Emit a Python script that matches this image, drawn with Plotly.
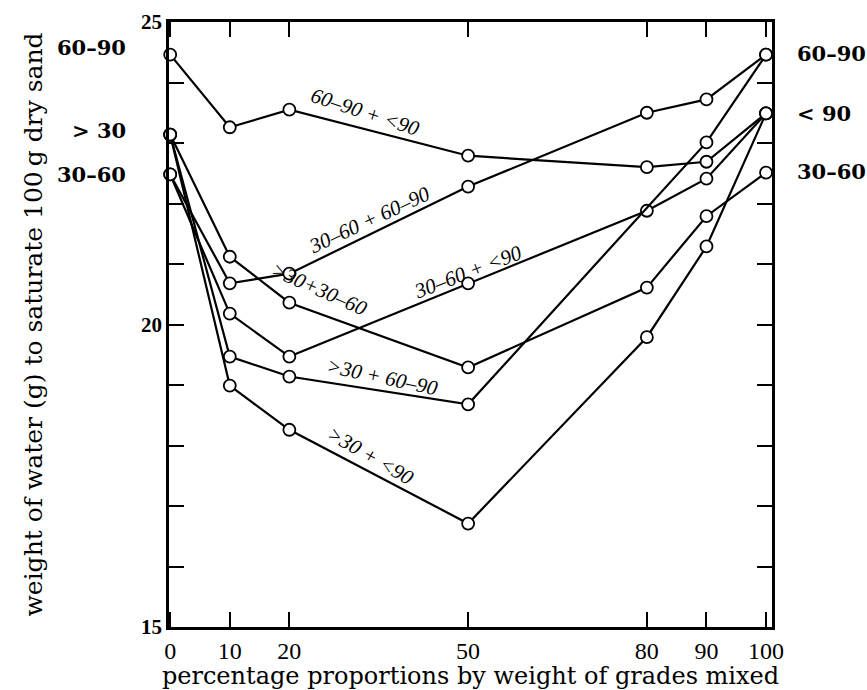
import plotly.graph_objects as go

# ---- data ----
x_full = [0, 10, 20, 50, 80, 90, 100]
x_no80 = [0, 10, 20, 50, 90, 100]

s_6090_lt90 = [24.46, 23.26, 23.55, 22.79, 22.60, 22.69, 23.49]
s_3060_6090 = [22.48, 20.68, 20.84, 22.28, 23.50, 23.72, 24.46]
s_3060_lt90 = [22.48, 20.18, 19.47, 20.68, 21.88, 22.41, 23.49]
s_gt30_3060 = [23.14, 21.12, 20.36, 19.29, 20.61, 21.79, 22.51]
s_gt30_6090 = [23.14, 19.47, 19.14, 18.68, 23.01, 24.46]
s_gt30_lt90 = [23.14, 18.99, 18.26, 16.71, 19.79, 21.29, 23.49]

series = [
    ("60–90 + <90", x_full, s_6090_lt90),
    ("30–60 + 60–90", x_full, s_3060_6090),
    ("30–60 + <90", x_full, s_3060_lt90),
    (">30+30–60", x_full, s_gt30_3060),
    (">30 + 60–90", x_no80, s_gt30_6090),
    (">30 + <90", x_full, s_gt30_lt90),
]

# line-label placement (x, y, angle)
label_pos = [
    (32.7, 23.52, 18),
    (33.4, 21.72, -25),
    (49.9, 20.87, -21),
    (25.0, 20.58, 24),
    (35.7, 19.13, 12),
    (33.7, 17.83, 30),
]

left_grades = ["60–90", "> 30", "30–60"]
left_grade_y = [24.58, 23.21, 22.48]
right_grades = ["60–90", "< 90", "30–60"]
right_grade_y = [24.48, 23.49, 22.53]

x_ticks = [0, 10, 20, 50, 80, 90, 100]
y_ticks = list(range(15, 26))
y_ticktext = ["15" if v == 15 else "20" if v == 20 else "25" if v == 25 else "" for v in y_ticks]

x_title = "percentage proportions by weight of grades mixed"
y_title = "weight of water (g) to saturate 100\u2009g dry sand"

fig = go.Figure()
for name, xs, ys in series:
    fig.add_trace(go.Scatter(
        x=xs, y=ys, mode="lines+markers", name=name,
        line=dict(color="black", width=2.2),
        marker=dict(symbol="circle", size=12, color="white",
                    line=dict(color="black", width=1.8)),
        showlegend=False, cliponaxis=False,
    ))

for (name, _, _), (lx, ly, ang) in zip(series, label_pos):
    fig.add_annotation(x=lx, y=ly, xref="x", yref="y", text=name,
                       showarrow=False, textangle=ang,
                       font=dict(family="Liberation Serif", size=21, color="black",
                                 style="italic"))

grade_font = dict(family="DejaVu Serif", size=21, color="black", weight="bold")
for t, yv in zip(left_grades, left_grade_y):
    fig.add_annotation(x=-0.068, y=yv, xref="paper", yref="y", text=t, showarrow=False,
                       xanchor="right", yanchor="middle", font=grade_font)
for t, yv in zip(right_grades, right_grade_y):
    fig.add_annotation(x=1.038, y=yv, xref="paper", yref="y", text=t, showarrow=False,
                       xanchor="left", yanchor="middle", font=grade_font)

axis_common = dict(showgrid=False, zeroline=False, showline=True, linecolor="black",
                   linewidth=2.5, mirror="ticks", ticks="inside", ticklen=15,
                   tickwidth=1.8, tickcolor="black")

fig.update_xaxes(range=[-0.2, 101], tickvals=x_ticks,
                 ticktext=[str(v) for v in x_ticks],
                 tickfont=dict(family="Liberation Serif", size=24, color="black"),
                 title=dict(text=x_title, standoff=6,
                            font=dict(family="DejaVu Serif", size=24, color="black")),
                 **axis_common)
fig.update_yaxes(range=[15, 25], tickvals=y_ticks, ticktext=y_ticktext,
                 tickfont=dict(family="Liberation Serif", size=21, color="black", weight="bold"),
                 title=dict(text=y_title, standoff=92,
                            font=dict(family="DejaVu Serif", size=25, color="black")),
                 **axis_common)

fig.update_layout(width=867, height=690,
                  margin=dict(l=169, r=95, t=22, b=63, autoexpand=False),
                  paper_bgcolor="white", plot_bgcolor="white")

fig.write_html("out.html")
